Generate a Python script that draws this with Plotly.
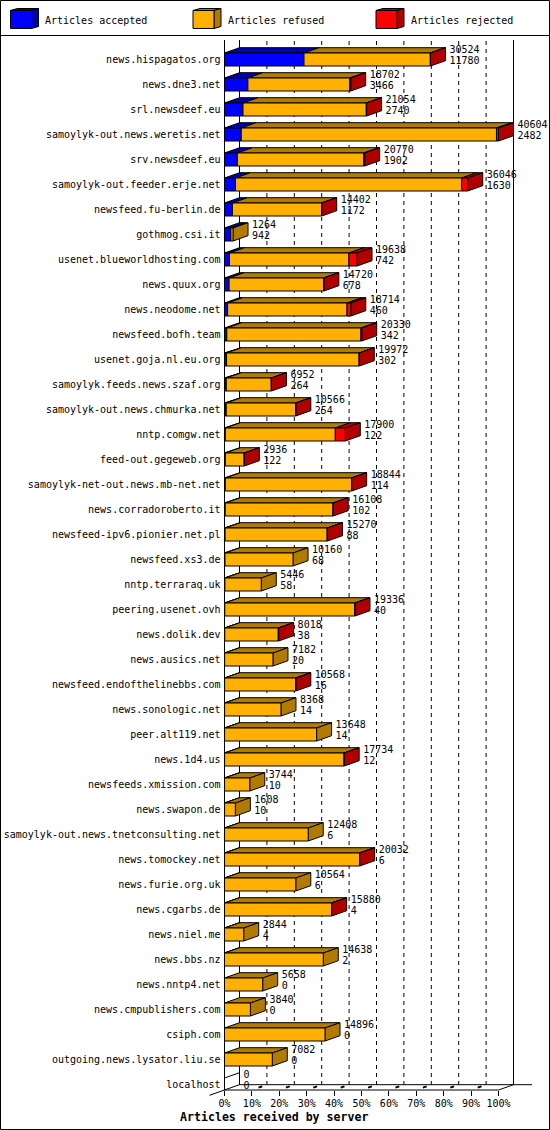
import plotly.graph_objects as go

# Values
servers = [
    "news.hispagatos.org", "news.dne3.net", "srl.newsdeef.eu", "samoylyk-out.news.weretis.net",
    "srv.newsdeef.eu", "samoylyk-out.feeder.erje.net", "newsfeed.fu-berlin.de", "gothmog.csi.it",
    "usenet.blueworldhosting.com", "news.quux.org", "news.neodome.net", "newsfeed.bofh.team",
    "usenet.goja.nl.eu.org", "samoylyk.feeds.news.szaf.org", "samoylyk-out.news.chmurka.net",
    "nntp.comgw.net", "feed-out.gegeweb.org", "samoylyk-net-out.news.mb-net.net",
    "news.corradoroberto.it", "newsfeed-ipv6.pionier.net.pl", "newsfeed.xs3.de", "nntp.terraraq.uk",
    "peering.usenet.ovh", "news.dolik.dev", "news.ausics.net", "newsfeed.endofthelinebbs.com",
    "news.sonologic.net", "peer.alt119.net", "news.1d4.us", "newsfeeds.xmission.com", "news.swapon.de",
    "samoylyk-out.news.tnetconsulting.net", "news.tomockey.net", "news.furie.org.uk", "news.cgarbs.de",
    "news.niel.me", "news.bbs.nz", "news.nntp4.net", "news.cmpublishers.com", "csiph.com",
    "outgoing.news.lysator.liu.se", "localhost",
]
received = [
    30524, 18702, 21054, 40604, 20770, 36046, 14402, 1264, 19638, 14720, 18714, 20330, 19972, 6952,
    10566, 17900, 2936, 18844, 16108, 15270, 10160, 5446, 19336, 8018, 7182, 10568, 8368, 13648,
    17734, 3744, 1608, 12408, 20032, 10564, 15880, 2844, 14638, 5658, 3840, 14896, 7082, 0,
]
accepted = [
    11780, 3466, 2740, 2482, 1902, 1630, 1172, 942, 742, 678, 460, 342, 302, 264, 254, 122, 122, 114,
    102, 88, 68, 58, 40, 38, 20, 16, 14, 14, 12, 10, 10, 6, 6, 6, 4, 4, 2, 0, 0, 0, 0, 0,
]
# not printed in the chart, estimated from the width of the red front faces
rejected = [
    20, 130, 40, 300, 130, 900, 20, 0, 1200, 30, 560, 110, 20, 20, 20, 1480, 20, 20, 30, 60, 0, 0,
    30, 50, 0, 30, 0, 0, 20, 0, 0, 0, 20, 0, 20, 0, 0, 0, 0, 0, 0, 0,
]
percent_ticks = [0, 10, 20, 30, 40, 50, 60, 70, 80, 90, 100]
legend_names = ["Articles accepted", "Articles refused", "Articles rejected"]

WIDTH, HEIGHT = 550, 1130
X0_PX, PX_PER_PCT = 224.5, 2.74
Y0_PX, ROW_PX = 59.5, 25.0
DEPTH_X, DEPTH_Y = 15 / PX_PER_PCT, 5.3 / ROW_PX
HALF_BAR = 6.5 / ROW_PX
FONT = "DejaVu Sans Mono"

BLUE, BLUE_DARK = "#0000ff", "#0000b0"
ORANGE, ORANGE_DARK = "#ffb000", "#b07b00"
RED, RED_DARK = "#ff0000", "#b00000"


def px_x(px):
    return (px - X0_PX) / PX_PER_PCT


def px_y(px):
    return (px - Y0_PX) / ROW_PX


def pct(value):
    return value / max(received) * 100


def add_polygon(path, points):
    path[0].extend([p[0] for p in points] + [points[0][0], None])
    path[1].extend([p[1] for p in points] + [points[0][1], None])


def poly_trace(path, color):
    return go.Scatter(
        x=path[0], y=path[1], mode="lines", fill="toself", fillcolor=color,
        line=dict(color="black", width=1), hoverinfo="skip", showlegend=False,
    )


def line_trace(xs, ys, dash="solid", width=1):
    return go.Scatter(
        x=xs, y=ys, mode="lines", line=dict(color="black", width=width, dash=dash),
        hoverinfo="skip", showlegend=False,
    )


fig = go.Figure()

# Back grid, walls and floor
top_y, floor_y = px_y(40), len(servers) - 1 + 5.5 / ROW_PX
for tick in percent_ticks[1:-1]:
    fig.add_trace(line_trace([tick + DEPTH_X] * 2, [px_y(41), floor_y - DEPTH_Y], dash="4px,4px"))
    fig.add_trace(line_trace([tick, tick + DEPTH_X], [floor_y, floor_y - DEPTH_Y], dash="0px,7px,4px,100px", width=2))
fig.add_trace(line_trace([0, 0], [top_y, floor_y]))
fig.add_trace(line_trace([DEPTH_X, DEPTH_X], [top_y, floor_y - DEPTH_Y]))
fig.add_trace(line_trace([100 + DEPTH_X, 100 + DEPTH_X], [top_y, floor_y - DEPTH_Y]))
fig.add_trace(line_trace([DEPTH_X, px_x(532)], [floor_y - DEPTH_Y] * 2))
fig.add_trace(line_trace([0, 100, 100 + DEPTH_X], [floor_y, floor_y, floor_y - DEPTH_Y]))
fig.add_trace(line_trace([-DEPTH_X, DEPTH_X], [floor_y + DEPTH_Y, floor_y - DEPTH_Y]))

# Stacked 3D bars
tops = {BLUE_DARK: ([], []), ORANGE_DARK: ([], []), RED_DARK: ([], [])}
sides = {ORANGE_DARK: ([], []), RED_DARK: ([], [])}
fronts = {BLUE: ([], []), ORANGE: ([], []), RED: ([], [])}
empty_bars = ([], [])
for row, total in enumerate(received):
    up, down = row - HALF_BAR, row + HALF_BAR
    if total == 0:
        empty_bars[0].extend([0, DEPTH_X, None])
        empty_bars[1].extend([up, up - DEPTH_Y, None])
        continue
    a_end = pct(accepted[row])
    r_end = pct(total - rejected[row])
    end = pct(total)
    for start, stop, front, top in [
        (0, a_end, BLUE, BLUE_DARK),
        (a_end, r_end, ORANGE, ORANGE_DARK),
        (r_end, end, RED, RED_DARK),
    ]:
        if stop <= start:
            continue
        add_polygon(tops[top], [(start, up), (start + DEPTH_X, up - DEPTH_Y), (stop + DEPTH_X, up - DEPTH_Y), (stop, up)])
        add_polygon(fronts[front], [(start, up), (stop, up), (stop, down), (start, down)])
    side = RED_DARK if rejected[row] > 0 else ORANGE_DARK
    add_polygon(sides[side], [(end, up), (end + DEPTH_X, up - DEPTH_Y), (end + DEPTH_X, down - DEPTH_Y), (end, down)])

for color, path in tops.items():
    fig.add_trace(poly_trace(path, color))
for color, path in sides.items():
    fig.add_trace(poly_trace(path, color))
for color, path in fronts.items():
    fig.add_trace(poly_trace(path, color))
fig.add_trace(line_trace(empty_bars[0], empty_bars[1]))

# Number pairs to the right of each bar
label_x = [pct(v) + DEPTH_X + 4 / PX_PER_PCT for v in received]
rows = list(range(len(servers)))
fig.add_trace(go.Scatter(
    x=label_x, y=[r - 9.5 / ROW_PX for r in rows], mode="text", text=[str(v) for v in received],
    textposition="middle right", textfont=dict(family=FONT, size=10, color="black"),
    hoverinfo="skip", showlegend=False,
))
fig.add_trace(go.Scatter(
    x=label_x, y=[r + 1.5 / ROW_PX for r in rows], mode="text", text=[str(v) for v in accepted],
    textposition="middle right", textfont=dict(family=FONT, size=10, color="black"),
    hoverinfo="skip", showlegend=False,
))


def paper_x(px):
    return px / WIDTH


def paper_y(px):
    return 1 - px / HEIGHT


def paper_path(points):
    parts = [f"{paper_x(x):.5f},{paper_y(y):.5f}" for x, y in points]
    return "M" + "L".join(parts) + "Z"


# Outer frame and legend strip
shapes = [
    dict(type="rect", xref="paper", yref="paper", x0=paper_x(0.5), x1=paper_x(549.5), y0=paper_y(0.5),
         y1=paper_y(1129.5), line=dict(color="black", width=1)),
    dict(type="line", xref="paper", yref="paper", x0=0, x1=1, y0=paper_y(35.5), y1=paper_y(35.5),
         line=dict(color="black", width=1)),
]
annotations = []
legend_colors = [(BLUE, BLUE_DARK), (ORANGE, ORANGE_DARK), (RED, RED_DARK)]
for name, (front, dark), left, text_x in zip(legend_names, legend_colors, [10.5, 193, 376], [42.5, 225.5, 408.5]):
    right = left + 21
    for color, points in [
        (dark, [(left, 10.5), (left + 7, 8.5), (right + 7, 8.5), (right, 10.5)]),
        (dark, [(right, 10.5), (right + 7, 8.5), (right + 7, 26.5), (right, 28.5)]),
        (front, [(left, 10.5), (right, 10.5), (right, 28.5), (left, 28.5)]),
    ]:
        shapes.append(dict(type="path", xref="paper", yref="paper", path=paper_path(points), fillcolor=color,
                           line=dict(color="black", width=1)))
    annotations.append(dict(
        text=name, xref="paper", yref="paper", x=paper_x(text_x), y=paper_y(20), xanchor="left", yanchor="middle",
        showarrow=False, font=dict(family=FONT, size=10, color="black"),
    ))

annotations.append(dict(
    text="<b>Articles received by server</b>", xref="paper", yref="paper", x=paper_x(273.5), y=paper_y(1117),
    xanchor="center", yanchor="middle", showarrow=False, font=dict(family=FONT, size=11.6, color="black"),
))

fig.update_layout(
    width=WIDTH, height=HEIGHT, margin=dict(l=0, r=0, t=0, b=0), paper_bgcolor="white", plot_bgcolor="white",
    showlegend=False, shapes=shapes, annotations=annotations, hovermode=False,
    xaxis=dict(
        domain=[0, 1], range=[px_x(0), px_x(WIDTH)], anchor="free", position=1 - 1090 / HEIGHT,
        tickmode="array", tickvals=percent_ticks, ticktext=[f"{t}%" for t in percent_ticks],
        ticks="outside", ticklen=5, tickcolor="black", ticklabelstandoff=-1,
        tickfont=dict(family=FONT, size=10, color="black"),
        showgrid=False, zeroline=False, showline=False,
    ),
    yaxis=dict(
        domain=[0, 1], range=[px_y(HEIGHT), px_y(0)], anchor="free", position=X0_PX / WIDTH,
        tickmode="array", tickvals=rows, ticktext=servers, ticks="", ticklabelstandoff=4,
        tickfont=dict(family=FONT, size=10, color="black"),
        showgrid=False, zeroline=False, showline=False,
    ),
)

# the page has an 8px default body margin that would shift the whole chart
fig.write_html(
    "out.html",
    config={"displayModeBar": False},
    post_script="document.body.style.margin='0';document.documentElement.style.overflow='hidden';",
)
